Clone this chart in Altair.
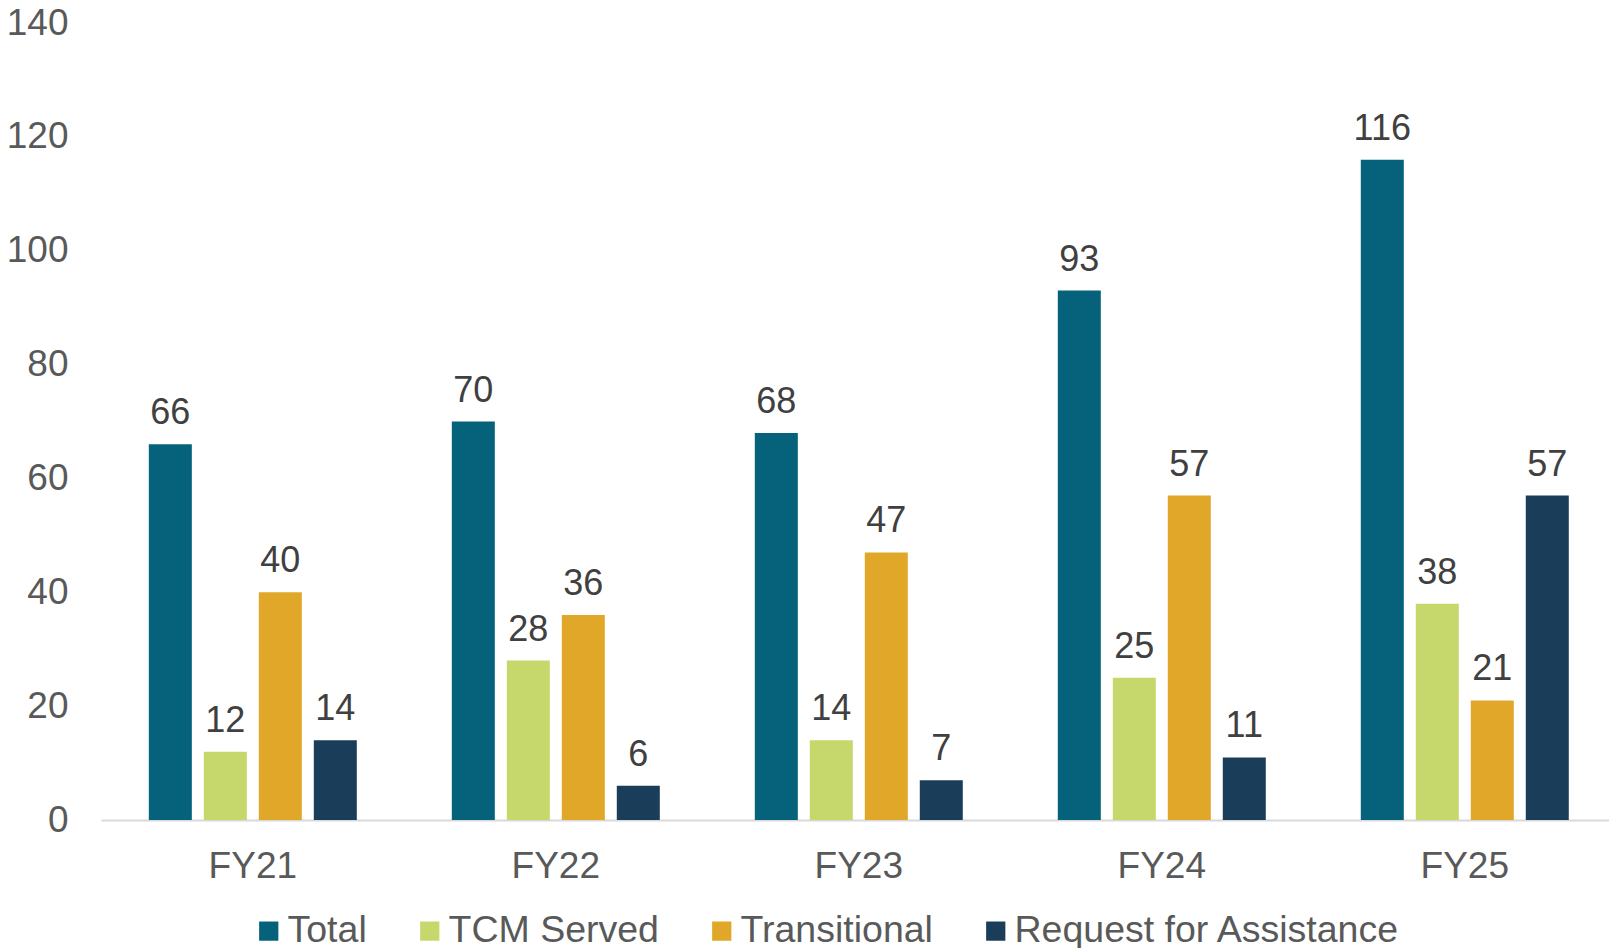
import altair as alt
import pandas as pd

years = ["FY21", "FY22", "FY23", "FY24", "FY25"]
series = ["Total", "TCM Served", "Transitional", "Request for Assistance"]
total = [66, 70, 68, 93, 116]
tcm_served = [12, 28, 14, 25, 38]
transitional = [40, 36, 47, 57, 21]
request = [14, 6, 7, 11, 57]
colors = ["#05627A", "#C6D86C", "#E1A729", "#1A3E59"]
y_ticks = [0, 20, 40, 60, 80, 100, 120, 140]

rows = []
for s, vals in zip(series, [total, tcm_served, transitional, request]):
    for yr, v in zip(years, vals):
        rows.append({"Year": yr, "Series": s, "Value": v})
df = pd.DataFrame(rows)

FONT = "Liberation Sans"

base = alt.Chart(df).encode(
    x=alt.X(
        "Year:N",
        sort=years,
        scale=alt.Scale(paddingInner=0.274, paddingOuter=0.1255, align=0.55),
        axis=alt.Axis(
            title=None, labelAngle=0, ticks=False, tickSize=0, labelPadding=28,
            labelFontSize=37, labelColor="#595959", labelFont=FONT,
            domainColor="#D9D9D9", domainWidth=2, grid=False,
        ),
    ),
    xOffset=alt.XOffset(
        "Series:N", sort=series,
        scale=alt.Scale(paddingInner=0.218, paddingOuter=0.109),
    ),
)

bars = base.mark_bar().encode(
    y=alt.Y(
        "Value:Q",
        scale=alt.Scale(domain=[0, 140], nice=False),
        axis=alt.Axis(
            title=None, values=y_ticks, domain=False, ticks=False, grid=False,
            labelPadding=33, labelFontSize=37, labelColor="#595959", labelFont=FONT,
        ),
    ),
    color=alt.Color(
        "Series:N",
        sort=series,
        scale=alt.Scale(domain=series, range=colors),
        legend=alt.Legend(
            title=None, orient="none", legendX=146, legendY=889,
            direction="horizontal", symbolType="square", symbolSize=370,
            symbolStrokeWidth=0, symbolOffset=3, labelFontSize=37.5, labelFont=FONT,
            labelColor="#595959", labelOffset=0, columnPadding=41,
            padding=0, labelLimit=0,
        ),
    ),
)

labels = base.mark_text(
    baseline="alphabetic", dy=-20, fontSize=36, font=FONT, color="#404040"
).encode(
    y=alt.Y("Value:Q"),
    text=alt.Text("Value:Q"),
)

chart = (
    (bars + labels)
    .properties(
        width=1508, height=797,
        padding={"left": 93, "top": 15, "right": 0, "bottom": 128},
        autosize="none",
    )
    .configure_view(stroke=None)
)

chart.save("out.html", embed_options={"renderer": "svg", "actions": False})
